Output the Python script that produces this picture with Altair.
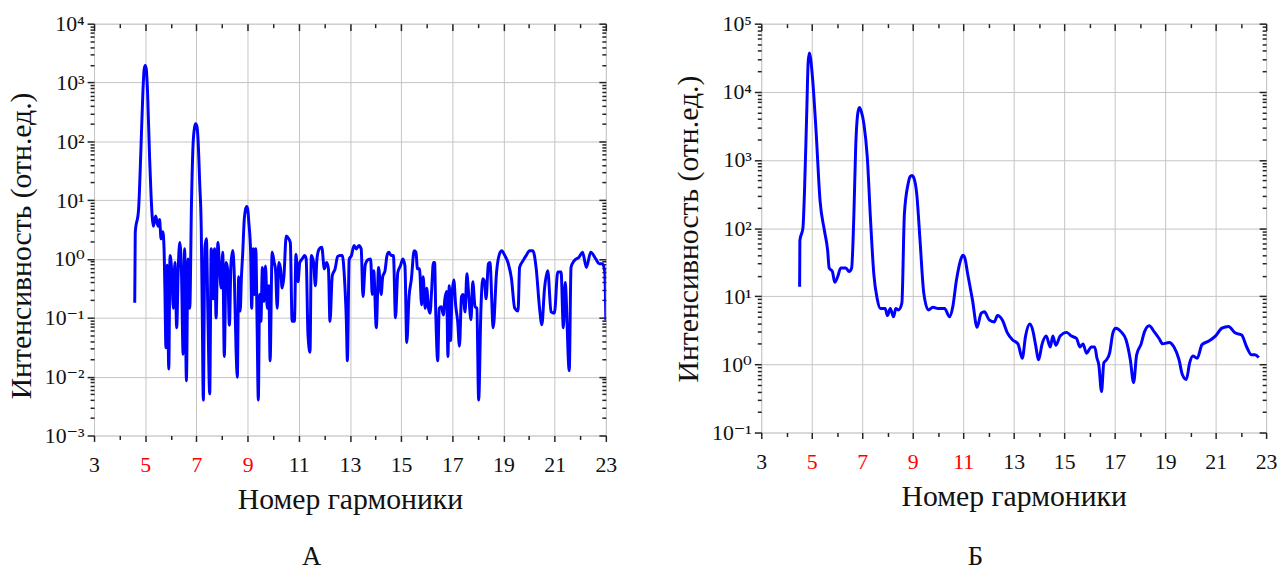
import altair as alt
import pandas as pd

# ---------------- data ----------------
# Panel A: harmonic number vs intensity
a_x = [4.59, 4.61, 4.74, 4.83, 4.91, 4.96, 5.00, 5.04, 5.09, 5.17, 5.23, 5.32, 5.41, 5.50, 5.56, 5.62, 5.69,
       5.74, 5.77, 5.81, 5.86, 5.92, 5.97, 6.03, 6.10, 6.16, 6.23, 6.29, 6.35, 6.42, 6.48, 6.54,
       6.61, 6.67, 6.74, 6.81, 6.87, 6.93, 6.97, 7.02, 7.06, 7.13, 7.19, 7.23, 7.27, 7.33, 7.39, 7.45, 7.52,
       7.58, 7.65, 7.71, 7.77, 7.84, 7.90, 7.97, 8.03, 8.09, 8.16, 8.22, 8.29, 8.35, 8.42, 8.48,
       8.55, 8.60, 8.65, 8.71, 8.76, 8.81, 8.87, 8.92, 8.97, 9.01, 9.05, 9.12, 9.16, 9.22, 9.27, 9.32, 9.37,
       9.42, 9.47, 9.52, 9.58, 9.64, 9.70, 9.77, 9.83, 9.88, 9.96, 10.04, 10.09, 10.16, 10.22, 10.29,
       10.35, 10.42, 10.51, 10.61, 10.67, 10.74, 10.83, 10.89, 10.97, 11.04, 11.13, 11.23, 11.29, 11.36, 11.44,
       11.49, 11.58, 11.65, 11.71, 11.80, 11.90, 12.00, 12.09, 12.16, 12.22, 12.31, 12.42, 12.52, 12.61, 12.70,
       12.78, 12.86, 12.90, 12.97, 13.06, 13.16, 13.25, 13.35, 13.44, 13.51, 13.60, 13.71, 13.81, 13.87, 13.93,
       14.03, 14.12, 14.22, 14.28, 14.37, 14.45, 14.52, 14.61, 14.70, 14.78, 14.87, 14.97, 15.07, 15.15, 15.22,
       15.31, 15.40, 15.51, 15.58, 15.64, 15.72, 15.80, 15.86, 15.94, 16.00, 16.07, 16.13, 16.19, 16.26, 16.31,
       16.35, 16.43, 16.49, 16.57, 16.65, 16.71, 16.78, 16.83, 16.88, 16.93, 16.99, 17.06, 17.13, 17.21, 17.28,
       17.36, 17.42, 17.50, 17.57, 17.64, 17.73, 17.80, 17.89, 17.96, 18.03, 18.12, 18.19, 18.26, 18.32, 18.41,
       18.47, 18.60, 18.73, 18.84, 18.93, 19.05, 19.19, 19.31, 19.44, 19.57, 19.63, 19.76, 19.89, 20.02, 20.15,
       20.28, 20.41, 20.50, 20.60, 20.73, 20.86, 20.99, 21.12, 21.25, 21.34, 21.41, 21.57, 21.64, 21.76, 21.95,
       22.09, 22.24, 22.41, 22.61, 22.74, 22.87, 22.96, 23.0]
a_y = [0.18, 2.8, 6.9, 69, 710, 1700, 1950, 1700, 710, 54, 11.5, 3.6, 5.4, 3.6, 4.7, 2.2, 2.9,
       1.3, 0.28, 0.031, 0.78, 0.0135, 1.15, 0.68, 0.145, 0.87, 0.068, 0.68, 1.9, 0.52, 0.024, 1.5,
       0.0085, 1.0, 0.145, 10, 89, 175, 200, 180, 117, 19, 3.2, 0.11, 0.004, 1.5, 2.2, 0.11, 0.0051,
       1.5, 0.21, 1.5, 0.1, 1.9, 0.78, 0.32, 1.3, 0.022, 0.87, 0.68, 0.075, 0.8, 1.4, 0.54,
       0.028, 0.0098, 0.5, 0.13, 0.5, 1.26, 4.7, 7.0, 7.8, 6.8, 4.1, 1.3, 0.145, 1.5, 0.25, 1.5, 0.087,
       0.004, 0.25, 0.087, 0.72, 0.19, 0.76, 0.145, 0.35, 0.0186, 1.3, 0.87, 0.68, 0.145, 0.87, 0.68,
       0.32, 0.5, 2.45, 2.2, 1.9, 0.087, 0.087, 1.2, 0.41, 0.87, 1.0, 1.15, 1.0, 0.052, 0.026,
       1.15, 0.87, 0.35, 1.0, 1.48, 1.58, 0.68, 0.87, 0.68, 0.087, 0.52, 0.68, 1.1, 1.15, 1.15,
       0.52, 0.087, 0.0186, 0.98, 1.15, 1.7, 1.48, 1.7, 1.48, 0.23, 0.8, 0.98, 1.0, 0.25, 0.63,
       0.068, 0.72, 0.25, 0.5, 0.63, 1.15, 1.3, 1.15, 1.15, 0.1, 0.59, 0.76, 1.0, 0.76, 0.038,
       0.23, 0.45, 1.38, 1.3, 0.68, 0.68, 0.166, 0.5, 0.145, 0.32, 0.145, 0.12, 0.28, 0.87, 0.87,
       0.145, 0.0186, 0.145, 0.155, 0.112, 0.21, 0.28, 0.022, 0.35, 0.041, 0.25, 0.44, 0.166, 0.087, 0.033,
       0.23, 0.25, 0.126, 0.56, 0.25, 0.093, 0.41, 0.155, 0.145, 0.004, 0.145, 0.46, 0.41, 0.21, 0.83,
       0.87, 0.068, 0.6, 1.2, 1.38, 1.15, 0.83, 0.47, 0.145, 0.13, 0.72, 0.93, 1.15, 1.38, 1.38,
       0.68, 0.145, 0.076, 0.3, 0.63, 0.126, 0.12, 0.6, 0.6, 0.068, 0.4, 0.0126, 0.72, 0.93, 1.07,
       1.3, 0.72, 1.3, 1.0, 0.83, 0.83, 0.6, 0.09]

# Panel B
b_x = [4.52, 4.53, 4.65, 4.71, 4.80, 4.86, 4.91, 4.96, 5.04, 5.17, 5.33, 5.50, 5.63, 5.69, 5.82, 5.91, 6.02,
       6.15, 6.35, 6.48, 6.58, 6.67, 6.74, 6.83, 6.89, 6.96, 7.07, 7.20, 7.33, 7.46, 7.59, 7.72, 7.91, 8.00,
       8.11, 8.24, 8.33, 8.44, 8.57, 8.67, 8.82, 8.90, 8.97, 9.05, 9.16, 9.29, 9.44, 9.62, 9.80, 10.0, 10.26,
       10.46, 10.59, 10.73, 10.93, 10.99, 11.06, 11.18, 11.37, 11.55, 11.71, 11.84, 12.03, 12.23, 12.36, 12.56, 12.75, 12.95,
       13.17, 13.34, 13.47, 13.64, 13.77, 13.86, 13.99, 14.12, 14.29, 14.45, 14.55, 14.67, 14.84, 15.10, 15.29,
       15.49, 15.62, 15.75, 15.88, 16.08, 16.21, 16.30, 16.37, 16.48, 16.57, 16.68, 16.80, 16.93, 17.04, 17.26,
       17.45, 17.62, 17.75, 17.87, 18.05, 18.18, 18.37, 18.57, 18.76, 18.90, 19.16, 19.35, 19.55, 19.68, 19.84,
       19.97, 20.10, 20.27, 20.46, 20.73, 20.99, 21.25, 21.51, 21.77, 22.03, 22.23, 22.42, 22.55, 22.71]
b_y = [13.8, 66, 100, 316, 4700, 28000, 37000, 30000, 14500, 2700, 250, 93, 47, 26, 23, 16, 19,
       26, 26, 23, 26, 160, 1500, 5000, 5900, 5200, 3300, 1100, 130, 21, 9.3, 6.6, 6.6, 5.2,
       6.6, 5.0, 6.6, 6.3, 7.9, 160, 450, 570, 590, 540, 316, 66, 11, 6.3, 6.9, 6.6, 6.6,
       5.0, 7.1, 17, 37, 40, 37, 21, 8.7, 3.5, 5.6, 5.9, 4.5, 4.2, 5.2, 4.4, 2.9, 2.3,
       2.0, 1.23, 2.6, 3.9, 3.0, 2.0, 1.17, 1.95, 2.6, 1.8, 2.6, 1.9, 2.6, 2.95, 2.6,
       2.4, 1.8, 2.0, 1.46, 1.8, 1.8, 1.23, 1.0, 0.40, 1.05, 1.17, 1.46, 2.9, 3.4, 3.0,
       2.3, 1.17, 0.54, 1.38, 2.0, 3.0, 3.7, 3.0, 2.4, 2.0, 2.1, 1.8, 1.17, 0.71, 0.60,
       1.05, 1.33, 1.23, 1.95, 2.2, 2.6, 3.4, 3.6, 2.9, 2.7, 1.8, 1.38, 1.38, 1.26]

x_all_ticks = list(range(3, 24))
x_major = [3, 5, 7, 9, 11, 13, 15, 17, 19, 21, 23]
x_minor = [4, 6, 8, 10, 12, 14, 16, 18, 20, 22]
a_red = [5, 7, 9]
b_red = [5, 7, 9, 11]
a_exp = (-3, 4)
b_exp = (-1, 5)
x_title = "Номер гармоники"
y_title = "Интенсивность (отн.ед.)"
captions = ["А", "Б"]

FONT = "Liberation Serif, Times New Roman, DejaVu Serif, serif"
SUP = {"-3": "⁻³", "-2": "⁻²", "-1": "⁻¹", "0": "⁰", "1": "¹", "2": "²", "3": "³", "4": "⁴", "5": "⁵"}


def decades(lo, hi):
    return [10.0 ** e for e in range(lo, hi + 1)]


def minors(lo, hi):
    out = []
    for e in range(lo, hi):
        for m in range(2, 10):
            out.append(m * 10.0 ** e)
    return out


EXP = "round(log(datum.value)/LN10)"
IS_MAJ = f"abs(log(datum.value)/LN10 - {EXP}) < 0.001"
sup_arr = "[" + ",".join("'" + SUP[str(e)] + "'" for e in range(-3, 6)) + "]"
y_label_expr = f"{IS_MAJ} ? '10' + {sup_arr}[{EXP} + 3] : ''"


def panel(xs, ys, exps, red, w, h, caption, title_y, cap_offset):
    lo, hi = exps
    df = pd.DataFrame({"x": xs, "y": ys})
    xscale = alt.Scale(domain=[3, 23], nice=False, zero=False)
    yscale = alt.Scale(type="log", domain=[10.0 ** lo, 10.0 ** hi], nice=False)
    red_test = " || ".join(f"datum.value == {r}" for r in red)
    line = alt.Chart(df).mark_line(color="#0000ff", strokeWidth=3, strokeJoin="round",
                                   interpolate="monotone", clip=True).encode(
        x=alt.X("x:Q", scale=xscale, axis=alt.Axis(
            orient="bottom", values=x_all_ticks, title=x_title, domain=False,
            tickSize={"condition": {"test": "datum.value % 2 == 1", "value": 6}, "value": 4},
            tickColor="#222", tickWidth=1.5,
            grid=True, gridColor="#c4c4c4", gridWidth=1,
            gridOpacity={"condition": {"test": "datum.value % 2 == 1", "value": 1}, "value": 0},
            labelExpr="datum.value % 2 == 1 ? datum.value : ''",
            labelColor={"condition": {"test": red_test, "value": "#ff0000"}, "value": "#111"},
            labelFont=FONT, labelFontSize=22, labelPadding=13, labelFlush=False,
            labelOverlap=False, labelBound=False,
            titleFont=FONT, titleFontSize=30, titleFontWeight="normal", titleColor="#111",
            titlePadding=10,
        )),
        y=alt.Y("y:Q", scale=yscale, axis=alt.Axis(
            orient="left", values=decades(lo, hi) + minors(lo, hi), title=y_title, domain=False,
            tickSize={"condition": {"test": IS_MAJ, "value": 7}, "value": 4},
            tickColor="#222", tickWidth=1.5,
            grid=True, gridColor="#c4c4c4", gridWidth=1,
            gridOpacity={"condition": {"test": IS_MAJ, "value": 1}, "value": 0},
            labelExpr=y_label_expr, labelColor="#111",
            labelFont=FONT, labelFontSize=22, labelPadding=3,
            labelOverlap=False, labelBound=False, labelFlush=False,
            titleFont=FONT, titleFontSize=30, titleFontWeight="normal", titleColor="#111",
            titlePadding=8, titleY=title_y,
        )),
    )

    def mirror(xvals, yvals, size):
        return alt.Chart(df).mark_point(opacity=0).encode(
            x=alt.X("x:Q", scale=xscale, axis=alt.Axis(
                orient="top", values=xvals, labels=False, domain=False, grid=False, title=None,
                tickSize=size, offset=-size, tickColor="#222", tickWidth=1.5)),
            y=alt.Y("y:Q", scale=yscale, axis=alt.Axis(
                orient="right", values=yvals, labels=False, domain=False, grid=False, title=None,
                tickSize=size, offset=-size, tickColor="#222", tickWidth=1.5)),
        )

    m1 = mirror(x_major, decades(lo, hi), 7)
    m2 = mirror(x_minor, minors(lo, hi), 4)
    return alt.layer(line, m1, m2).resolve_axis(x="independent", y="independent").properties(
        width=w, height=h,
        title=alt.TitleParams(caption, orient="bottom", anchor="middle", frame="bounds",
                              font=FONT, fontSize=27, fontWeight="normal", color="#111",
                              offset=cap_offset),
    )


left = panel(a_x, a_y, a_exp, a_red, 517, 416, captions[0], 224, 30)
right = panel(b_x, b_y, b_exp, b_red, 510, 413, captions[1], 207, 33)

chart = alt.hconcat(left, right, spacing=56).properties(
    padding={"left": 6, "top": 9, "right": 0, "bottom": 0}
).configure_view(stroke="#222", strokeWidth=2).configure(background="white")

chart.save("out.html", embed_options={"renderer": "svg", "actions": False})
